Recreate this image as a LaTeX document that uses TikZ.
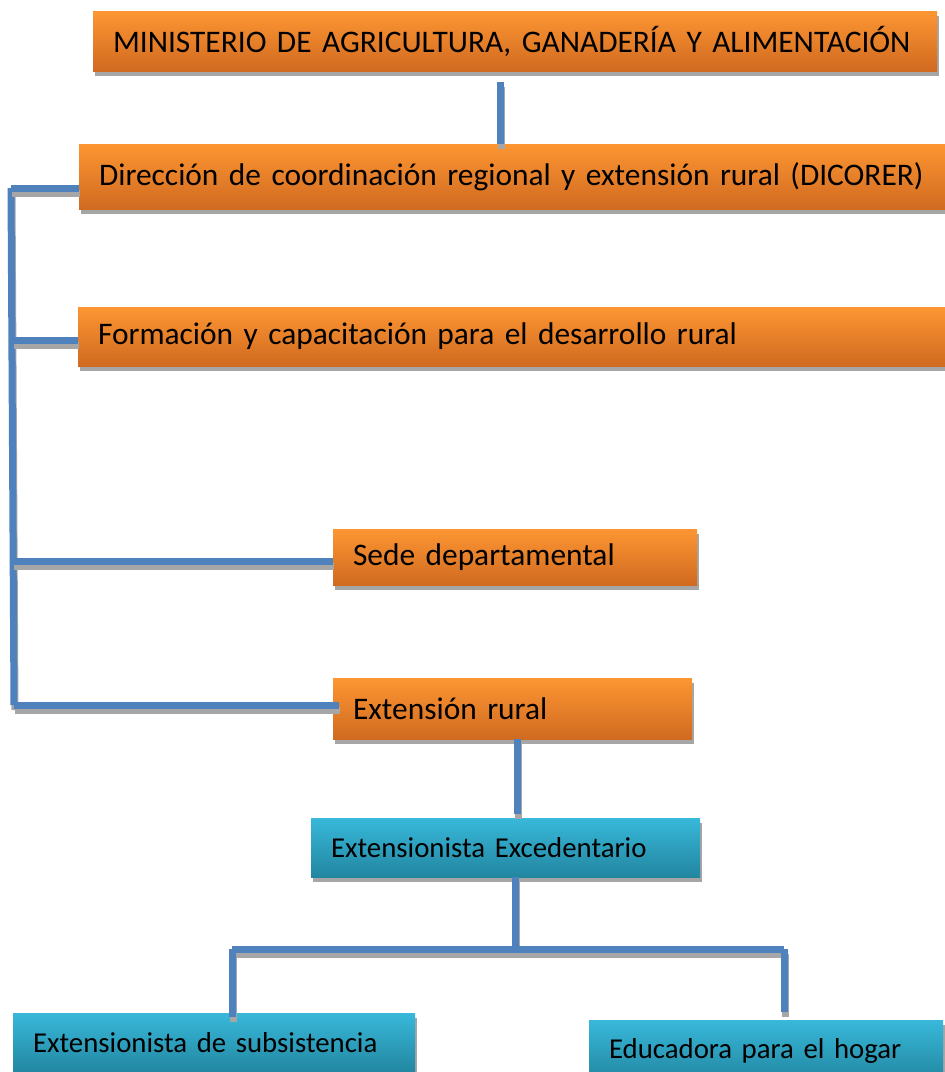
\documentclass[tikz,border=0pt]{standalone}
\usepackage{fontspec}
\setmainfont{Carlito}
\definecolor{otop}{RGB}{253,150,50}
\definecolor{obot}{RGB}{208,106,32}
\definecolor{btop}{RGB}{56,184,218}
\definecolor{bbot}{RGB}{34,134,160}
\definecolor{linkblue}{RGB}{79,129,189}
\definecolor{shadowgray}{RGB}{166,166,166}
\tikzset{
  boxbase/.style={rectangle, draw=none, inner xsep=20pt, inner ysep=0pt, align=left,
    preaction={fill=shadowgray, transform canvas={xshift=2pt,yshift=-5pt}}},
  obox/.style={boxbase, top color=otop, bottom color=obot, font=\fontsize{31.4}{36}\selectfont},
  bbox/.style={boxbase, top color=btop, bottom color=bbot, font=\fontsize{28.8}{33}\selectfont},
  conn/.style={draw=linkblue, line width=7pt,
    preaction={draw=shadowgray, line width=7pt, transform canvas={xshift=1pt,yshift=-5pt}}},
}
\begin{document}
\begin{tikzpicture}[x=1pt,y=-1pt]
\clip (0,0) rectangle (945,1072);
\fill[white] (0,0) rectangle (945,1072);
% boxes
\node[obox, text width=804pt, minimum height=60pt] (m) at (515,41) {MINISTERIO DE AGRICULTURA, GANADERÍA Y ALIMENTACIÓN};
\node[obox, text width=827pt, minimum height=65pt] (d) at (512.5,176.5) {Dirección de coordinación regional y extensión rural (DICORER)};
\node[obox, text width=828pt, minimum height=59pt] (f) at (512,336.5) {Formación y capacitación para el desarrollo rural};
\node[obox, text width=324pt, minimum height=56pt] (s) at (515,557) {Sede departamental};
\node[obox, text width=319pt, minimum height=61pt] (e) at (512.5,708.5) {Extensión rural};
\node[bbox, text width=349pt, minimum height=59pt] (x) at (505.5,847.5) {Extensionista Excedentario};
\node[bbox, text width=362pt, minimum height=60pt] (sub) at (214,1043) {Extensionista de subsistencia};
\node[bbox, text width=314pt, minimum height=62pt] (edu) at (766,1051) {Educadora para el hogar};
% bus coordinates
\coordinate (ltop) at (11,188);
\coordinate (lf) at (13,340);
\coordinate (ls) at (13,561);
\coordinate (lbot) at (14,705);
\coordinate (mtop) at (500,82);
\coordinate (ebot) at (517,739);
\coordinate (xtop) at (517,814);
\coordinate (xbot) at (515,877);
\coordinate (bl) at (232,949);
\coordinate (bm) at (515,949);
\coordinate (br) at (784,949);
% connectors
\draw[conn] (mtop) -- (mtop |- d.north);
\draw[conn] (ltop) -- (lbot);
\draw[conn] (ltop) -- (ltop -| d.west);
\draw[conn] (lf) -- (lf -| f.west);
\draw[conn] (ls) -- (ls -| s.west);
\draw[conn] (lbot) -- ([xshift=6pt]lbot -| e.west);
\draw[conn] (ebot) -- (xtop);
\draw[conn] (xbot) -- (bm);
\draw[conn] (bl) -- (br);
\draw[conn] (bl) -- ([yshift=-4pt]bl |- sub.north);
\draw[conn] (br) -- ([yshift=8pt]br |- edu.north);
\end{tikzpicture}
\end{document}
